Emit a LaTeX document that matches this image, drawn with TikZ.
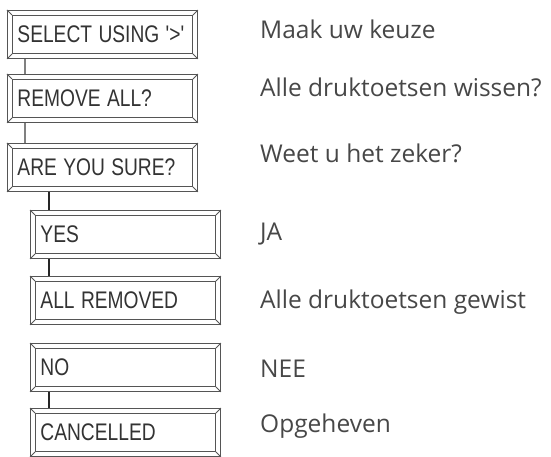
\documentclass[tikz,border=0pt]{standalone}
\usepackage{fontspec}
\usepackage{graphicx}
\setmainfont{Open Sans}
\newfontfamily\lcdfont{Liberation Sans}
\newcommand{\lcdtxt}[1]{\scalebox{0.8}[1]{#1}}
\usetikzlibrary{calc}
\definecolor{boxline}{HTML}{555555}
\definecolor{txt}{HTML}{333333}
\tikzset{
  lcd/.style={draw=boxline, line width=0.9pt, rectangle, text width=170pt, inner xsep=10pt,
    inner ysep=0pt, minimum height=48pt, align=left, font=\lcdfont\fontsize{24}{24}\selectfont,
    text=txt, text height=17pt, text depth=0pt, anchor=north west},
  desc/.style={anchor=base west, font=\fontsize{24.5}{24.5}\selectfont, text=txt!90, inner sep=0pt},
  bevel/.style={draw=boxline, line width=0.9pt},
  linkA/.style={draw=black!50, line width=1.4pt},
  linkB/.style={draw=black!85, line width=1.6pt}
}
\begin{document}
\begin{tikzpicture}[x=1pt,y=-1pt]
\useasboundingbox (0,0) rectangle (551,457);
\node[lcd] (b1) at (7,10) {\lcdtxt{SELECT USING '>'}};
\node[lcd] (b2) at (7,74) {\lcdtxt{REMOVE ALL?}};
\node[lcd] (b3) at (7,143) {\lcdtxt{ARE YOU SURE?}};
\node[lcd] (b4) at (30,210) {\lcdtxt{YES}};
\node[lcd] (b5) at (30,276) {\lcdtxt{ALL REMOVED}};
\node[lcd] (b6) at (30,343) {\lcdtxt{NO}};
\node[lcd] (b7) at (30,408) {\lcdtxt{CANCELLED}};
\foreach \n in {b1,b2,b3,b4,b5,b6,b7}{
  \draw[bevel] ($(\n.north west)+(5,5)$) rectangle ($(\n.south east)+(-5,-5)$);
  \draw[bevel] (\n.north west) -- ++(5,5);
  \draw[bevel] (\n.north east) -- ++(-5,5);
  \draw[bevel] (\n.south west) -- ++(5,-5);
  \draw[bevel] (\n.south east) -- ++(-5,-5);
}
\draw[linkA] ($(b1.south west)+(18,0)$) -- ($(b2.north west)+(18,0)$);
\draw[linkA] ($(b2.south west)+(18,0)$) -- ($(b3.north west)+(18,0)$);
\draw[linkB] ($(b3.south west)+(42,0)$) -- ($(b4.north west)+(19,0)$);
\draw[linkB] ($(b4.south west)+(19,0)$) -- ($(b5.north west)+(19,0)$);
\draw[linkB] ($(b6.south west)+(19,0)$) -- ($(b7.north west)+(19,0)$);
\node[desc] (d1) at (260,39) {Maak uw keuze};
\node[desc] (d2) at (260,97) {Alle druktoetsen wissen?};
\node[desc] (d3) at (260,163) {Weet u het zeker?};
\node[desc] (d4) at (260,240) {JA};
\node[desc] (d5) at (260,308) {Alle druktoetsen gewist};
\node[desc] (d6) at (260,377) {NEE};
\node[desc] (d7) at (260,432) {Opgeheven};
\end{tikzpicture}
\end{document}
